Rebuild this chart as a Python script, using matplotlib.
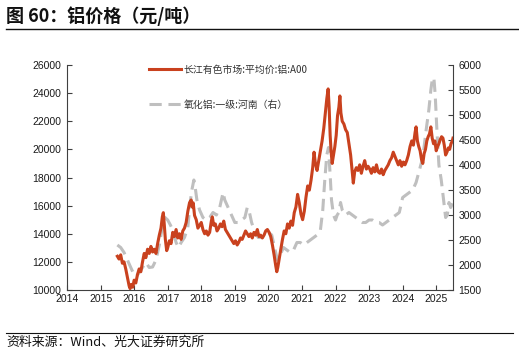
import matplotlib
matplotlib.use("Agg")
import matplotlib.pyplot as plt
from matplotlib.lines import Line2D

plt.rcParams['font.family'] = ['Liberation Sans', 'Noto Sans CJK SC', 'DejaVu Sans']

# ---- data ----
al_year = [2015.50, 2015.55, 2015.60, 2015.65, 2015.70, 2015.75, 2015.80, 2015.85, 2015.88, 2015.92, 2015.96,
           2016.00, 2016.05, 2016.10, 2016.15, 2016.20, 2016.25, 2016.30, 2016.35, 2016.40, 2016.45, 2016.50,
           2016.55, 2016.60, 2016.65, 2016.70, 2016.75, 2016.80, 2016.84, 2016.87, 2016.90, 2016.93, 2016.97,
           2017.00, 2017.05, 2017.10, 2017.15, 2017.20, 2017.25, 2017.30, 2017.35, 2017.40, 2017.45, 2017.50,
           2017.55, 2017.60, 2017.65, 2017.70, 2017.73, 2017.76, 2017.80, 2017.85, 2017.90, 2017.95,
           2018.00, 2018.05, 2018.10, 2018.15, 2018.20, 2018.25, 2018.30, 2018.33, 2018.37, 2018.42, 2018.47,
           2018.52, 2018.57, 2018.62, 2018.67, 2018.72, 2018.77, 2018.82, 2018.87, 2018.92, 2018.97,
           2019.02, 2019.07, 2019.12, 2019.17, 2019.22, 2019.27, 2019.32, 2019.37, 2019.42, 2019.47, 2019.52,
           2019.57, 2019.62, 2019.67, 2019.72, 2019.77, 2019.82, 2019.87, 2019.92, 2019.97,
           2020.02, 2020.07, 2020.12, 2020.17, 2020.22, 2020.25, 2020.28, 2020.32, 2020.37, 2020.42, 2020.47,
           2020.52, 2020.57, 2020.62, 2020.67, 2020.72, 2020.77, 2020.82, 2020.87, 2020.92, 2020.97,
           2021.02, 2021.07, 2021.12, 2021.17, 2021.22, 2021.27, 2021.32, 2021.36, 2021.40, 2021.45, 2021.50,
           2021.55, 2021.60, 2021.65, 2021.70, 2021.74, 2021.78, 2021.81, 2021.84, 2021.87, 2021.90, 2021.94, 2021.98,
           2022.02, 2022.06, 2022.10, 2022.13, 2022.16, 2022.20, 2022.25, 2022.30, 2022.35, 2022.40, 2022.45,
           2022.50, 2022.53, 2022.57, 2022.62, 2022.67, 2022.72, 2022.77, 2022.82, 2022.87, 2022.92, 2022.97,
           2023.02, 2023.07, 2023.12, 2023.17, 2023.22, 2023.27, 2023.32, 2023.37, 2023.42, 2023.47, 2023.52,
           2023.57, 2023.62, 2023.67, 2023.72, 2023.77, 2023.82, 2023.87, 2023.92, 2023.97,
           2024.02, 2024.07, 2024.12, 2024.17, 2024.22, 2024.27, 2024.32, 2024.37, 2024.40, 2024.44, 2024.48,
           2024.52, 2024.56, 2024.60, 2024.64, 2024.68, 2024.72, 2024.76, 2024.80, 2024.84, 2024.88, 2024.92,
           2024.96, 2025.00, 2025.04, 2025.08, 2025.12, 2025.16, 2025.20, 2025.24, 2025.28, 2025.32, 2025.36,
           2025.40, 2025.44, 2025.48, 2025.50]
al_price = [12400, 12200, 12500, 11900, 12000, 11500, 10900, 10300, 10100, 10400, 10200,
            10700, 10500, 11100, 11500, 11300, 12000, 12600, 12300, 12900, 12600, 13100,
            12700, 12900, 12600, 13300, 13900, 14400, 15200, 15500, 14600, 13600, 12800,
            13000, 13500, 13300, 14100, 13800, 14300, 13700, 14000, 13600, 14200, 14400,
            14800, 15600, 16200, 16400, 15900, 16200, 15300, 15000, 14400, 14600,
            14800, 14300, 14000, 14200, 13900, 14100, 14900, 15200, 14600, 14700, 14200,
            14400, 14700, 14500, 14900, 14300, 14100, 13900, 13700, 13500, 13300,
            13500, 13200, 13400, 13700, 13600, 13900, 14200, 14000, 13800, 14000, 13700,
            14100, 13900, 14300, 13800, 13900, 13700, 13900, 14200, 14300,
            14100, 13800, 13200, 12500, 11700, 11300, 11600, 12200, 12900, 13600, 14200,
            14000, 14700, 14400, 14900, 14600, 15500, 15900, 16800, 16200, 15400,
            15000, 15600, 16600, 17400, 17100, 17800, 18700, 19800, 19000, 18500, 19200,
            19900, 20600, 21500, 22700, 23600, 24300, 23000, 21000, 19800, 19000, 19600, 20200,
            21000, 22400, 23000, 23800, 22600, 22000, 21800, 21400, 21200, 20400, 19600,
            18300, 17600, 18400, 18700, 18500, 18900, 18300, 18800, 19200, 18600, 18800,
            18600, 18300, 18700, 18400, 18900, 18400, 18300, 18600, 18200, 18500, 18700,
            18900, 19200, 19400, 19800, 19500, 19200, 18900, 19200, 18800,
            19100, 18900, 19200, 19600, 20200, 20600, 20300, 21200, 21600, 20600, 20200,
            19900, 19300, 19000, 19700, 20000, 20600, 20900, 21100, 21600, 20800, 20400,
            20600, 19900, 20200, 20400, 20700, 20900, 20800, 20300, 19600, 19800, 20100,
            20000, 20400, 20600, 20800]

ao_year = [2015.50, 2015.60, 2015.70, 2015.80, 2015.90, 2016.00, 2016.08, 2016.15, 2016.25, 2016.35, 2016.45,
           2016.55, 2016.65, 2016.75, 2016.85, 2016.92, 2017.00, 2017.08, 2017.15, 2017.25, 2017.32, 2017.40,
           2017.50, 2017.60, 2017.66, 2017.72, 2017.78, 2017.82, 2017.87, 2017.95, 2018.05, 2018.15, 2018.25,
           2018.35, 2018.45, 2018.55, 2018.60, 2018.65, 2018.70, 2018.80, 2018.90, 2019.00, 2019.10, 2019.20,
           2019.30, 2019.37, 2019.42, 2019.50, 2019.60, 2019.70, 2019.80, 2019.90, 2020.00, 2020.10, 2020.20,
           2020.27, 2020.35, 2020.45, 2020.55, 2020.65, 2020.75, 2020.85, 2020.95, 2021.05, 2021.15, 2021.25,
           2021.35, 2021.45, 2021.55, 2021.62, 2021.68, 2021.74, 2021.79, 2021.84, 2021.88, 2021.94, 2022.00,
           2022.05, 2022.10, 2022.15, 2022.20, 2022.30, 2022.40, 2022.50, 2022.60, 2022.70, 2022.80, 2022.90,
           2023.00, 2023.10, 2023.20, 2023.30, 2023.40, 2023.50, 2023.60, 2023.70, 2023.80, 2023.90, 2024.00,
           2024.10, 2024.20, 2024.30, 2024.40, 2024.50, 2024.60, 2024.70, 2024.78, 2024.84, 2024.88, 2024.93,
           2024.97, 2025.02, 2025.08, 2025.15, 2025.22, 2025.28, 2025.33, 2025.38, 2025.43, 2025.50]
ao_price = [2400, 2350, 2250, 2100, 1950, 1800, 1780, 1850, 1950, 2050, 1950,
            1960, 2100, 2400, 2800, 2950, 2900, 2800, 2700, 2450, 2350, 2450,
            2550, 2750, 3200, 3500, 3700, 3550, 3300, 3100, 2950, 2900, 2950,
            3050, 3000, 3150, 3300, 3450, 3300, 3150, 3000, 2850, 2850, 2900,
            2950, 3150, 3100, 2850, 2650, 2550, 2550, 2600, 2650, 2600, 2300,
            2100, 2200, 2350, 2300, 2250, 2300, 2450, 2450, 2400, 2450, 2500,
            2550, 2600, 2700, 3100, 3700, 4200, 4350, 3800, 3300, 3000, 2900,
            3000, 3050, 3250, 3100, 3000, 3050, 3000, 2950, 2900, 2850, 2850,
            2900, 2900, 2850, 2850, 2800, 2850, 2900, 2950, 3000, 3050, 3350,
            3400, 3450, 3500, 3650, 3900, 4150, 4700, 5100, 5500, 5700, 5750,
            5400, 4700, 4000, 3700, 3300, 2950, 3000, 3250, 3150, 3250]

x_ticks = list(range(2014, 2026))
left_ticks = list(range(10000, 26001, 2000))
right_ticks = list(range(1500, 6001, 500))

al_label = '长江有色市场:平均价:铝:A00'
ao_label = '氧化铝:一级:河南（右）'

RED = '#C9411E'
GRAY = '#BFBFBF'

fig = plt.figure(figsize=(5.19, 3.54), dpi=100)
ax = fig.add_axes([67/519, 64/354, (453-67)/519, (290-65)/354])
ax2 = ax.twinx()

l1, = ax.plot(al_year, al_price, color=RED, lw=2.2, zorder=3)
l2, = ax2.plot(ao_year, ao_price, color=GRAY, lw=2.2, dashes=(4, 2.2))
ax.set_zorder(ax2.get_zorder() + 1)
ax.patch.set_visible(False)

ax.set_xlim(2014, 2025.5)
ax.set_ylim(10000, 26000)
ax2.set_ylim(1500, 6000)
ax.set_xticks(x_ticks)
ax.set_yticks(left_ticks)
ax2.set_yticks(right_ticks)

for a in (ax, ax2):
    a.spines['top'].set_visible(False)
    for s in a.spines.values():
        s.set_color('#404040')
        s.set_linewidth(0.8)
    a.tick_params(direction='in', length=3.5, width=0.8, color='#404040',
                  labelsize=7.5, labelcolor='#1a1a1a', pad=4)
ax.spines['right'].set_visible(False)
ax2.spines['left'].set_visible(False)
ax2.spines['bottom'].set_visible(False)
ax.tick_params(axis='x', pad=3)

leg = ax.legend([l1, l2], [al_label, ao_label], loc='upper left',
                bbox_to_anchor=(0.19, 1.04), frameon=False, labelspacing=2.5,
                handlelength=3.2, handletextpad=0.3,
                prop={'family': ['Noto Sans CJK SC', 'DejaVu Sans'], 'size': 7.1})
for t in leg.get_texts():
    t.set_color('#333333')

fig.text(6/519, 1 - 16/354, '图 60：铝价格（元/吨）', fontsize=13, fontweight='bold',
         family=['Noto Sans CJK SC', 'DejaVu Sans'], va='center', ha='left', color='#111111')
fig.add_artist(Line2D([6/519, 1.0], [1 - 29/354, 1 - 29/354], color='#111111', lw=1.0))
fig.add_artist(Line2D([6/519, 513/519], [1 - 333/354, 1 - 333/354], color='#111111', lw=0.8))
fig.text(6/519, 1 - 342/354, '资料来源：Wind、光大证券研究所', fontsize=9.3,
         family=['Noto Sans CJK SC', 'DejaVu Sans'], va='center', ha='left', color='#111111')

fig.savefig('out.png', dpi=100)
